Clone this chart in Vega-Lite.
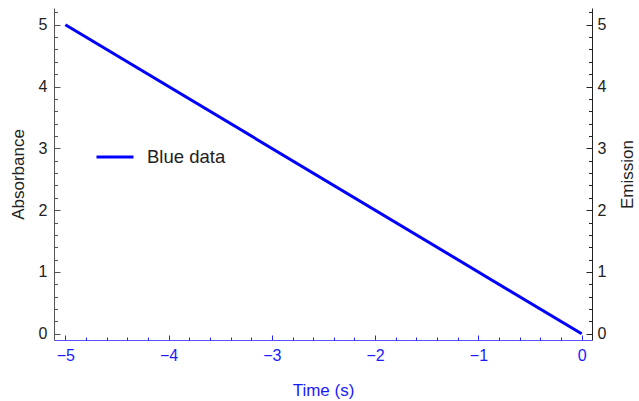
{
  "$schema": "https://vega.github.io/schema/vega-lite/v6.json",
  "autosize": "none",
  "width": 538,
  "height": 332,
  "padding": {"left": 54, "top": 8, "right": 47, "bottom": 61},
  "background": "white",
  "data": {"values": [{"time": -5, "value": 5}, {"time": 0, "value": 0}]},
  "config": {
    "font": "Liberation Sans",
    "view": {"stroke": null},
    "axis": {"grid": false, "labelFont": "Liberation Sans", "titleFont": "Liberation Sans", "titleFontWeight": "normal", "labelFontSize": 16, "titleFontSize": 17}
  },
  "resolve": {"axis": {"x": "independent", "y": "independent"}},
  "layer": [
    {
      "mark": {"type": "line", "strokeWidth": 3, "clip": true},
      "encoding": {
        "x": {"field": "time", "type": "quantitative",
          "scale": {"domain": [-5.11, 0.1], "nice": false, "zero": false},
          "axis": {"values": [-5, -4, -3, -2, -1, 0], "format": "d", "title": "Time (s)", "orient": "bottom",
            "domainColor": "#5555ff", "tickColor": "#2222ff", "tickSize": -5, "labelPadding": 12,
            "labelColor": "#1a1aff", "titleColor": "#1a1aff", "titlePadding": 19}},
        "y": {"field": "value", "type": "quantitative",
          "scale": {"domain": [-0.1, 5.27], "nice": false, "zero": false},
          "axis": {"values": [0, 1, 2, 3, 4, 5], "title": "Absorbance", "orient": "left",
            "domainColor": "#555555", "tickColor": "#555555", "tickSize": -6, "labelPadding": 13,
            "labelColor": "#222222", "titleColor": "#222222", "titlePadding": 11}},
        "color": {"datum": "Blue data", "type": "nominal",
          "scale": {"range": ["#0000ff"]},
          "legend": {"title": null, "orient": "none", "legendX": 41, "legendY": 129,
            "symbolType": "stroke", "symbolSize": 1369, "symbolStrokeWidth": 3,
            "labelFontSize": 18.5, "labelColor": "#222222", "labelOffset": 12, "labelFont": "Liberation Sans"}}
      }
    },
    {
      "mark": {"type": "line", "opacity": 0},
      "encoding": {
        "x": {"field": "time", "type": "quantitative",
          "axis": {"values": [-4.8, -4.6, -4.4, -4.2, -3.8, -3.6, -3.4, -3.2, -2.8, -2.6, -2.4, -2.2, -1.8, -1.6, -1.4, -1.2, -0.8, -0.6, -0.4, -0.2],
            "orient": "bottom", "labels": false, "title": null, "domain": false, "tickColor": "#2222ff", "tickSize": -3}},
        "y": {"field": "value", "type": "quantitative",
          "axis": {"values": [-0.2, 0.2, 0.4, 0.6, 0.8, 1.2, 1.4, 1.6, 1.8, 2.2, 2.4, 2.6, 2.8, 3.2, 3.4, 3.6, 3.8, 4.2, 4.4, 4.6, 4.8, 5.2],
            "orient": "left", "labels": false, "title": null, "domain": false, "tickColor": "#555555", "tickSize": -3.5}}
      }
    },
    {
      "mark": {"type": "line", "opacity": 0},
      "encoding": {
        "x": {"field": "time", "type": "quantitative", "axis": null},
        "y": {"field": "value", "type": "quantitative",
          "axis": {"values": [0, 1, 2, 3, 4, 5], "title": "Emission", "orient": "right", "titleAngle": 270, "titleBaseline": "top",
            "domainColor": "#222222", "tickColor": "#222222", "tickSize": -6, "labelPadding": 11,
            "labelColor": "#222222", "titleColor": "#222222", "titlePadding": 14}}
      }
    },
    {
      "mark": {"type": "line", "opacity": 0},
      "encoding": {
        "x": {"field": "time", "type": "quantitative", "axis": null},
        "y": {"field": "value", "type": "quantitative",
          "axis": {"values": [-0.2, 0.2, 0.4, 0.6, 0.8, 1.2, 1.4, 1.6, 1.8, 2.2, 2.4, 2.6, 2.8, 3.2, 3.4, 3.6, 3.8, 4.2, 4.4, 4.6, 4.8, 5.2],
            "orient": "right", "labels": false, "title": null, "domain": false, "tickColor": "#222222", "tickSize": -3.5}}
      }
    }
  ]
}
